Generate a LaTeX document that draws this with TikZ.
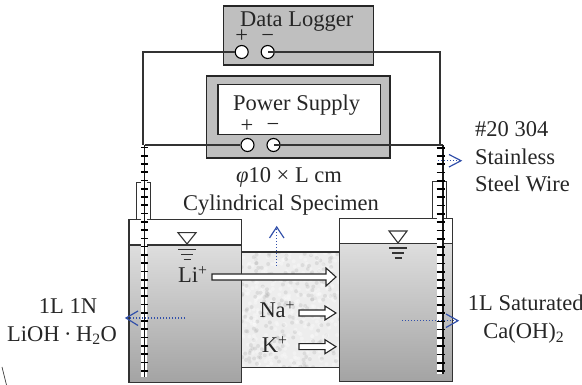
\documentclass[tikz,border=0pt]{standalone}
\usepackage{fontspec}
\setmainfont{Liberation Serif}
\definecolor{flowblue}{RGB}{50,80,170}
\begin{document}
\begin{tikzpicture}[x=1pt,y=-1pt,
  lab/.style={inner sep=0pt,font=\fontsize{22.5}{26}\selectfont,text=black!85},
  sgn/.style={inner sep=0pt,font=\fontsize{22.5}{24}\selectfont,text=black!85},
  box/.style={draw=black!85,line width=1.1pt,fill=black!25,inner sep=0pt},
  inner/.style={draw=black!85,line width=1.1pt,fill=white,inner sep=0pt},
  term/.style={circle,draw=black,line width=1.1pt,fill=white,minimum size=13pt,inner sep=0pt},
  wire/.style={draw=black!80,line width=1.1pt},
  tank/.style={draw=black!80,line width=1.2pt},
  ionarrow/.style={draw=black!85,line width=1.1pt,fill=white},
  flow/.style={draw=flowblue,line width=1.3pt,dash pattern=on 1.4pt off 1.6pt},
  chev/.style={draw=flowblue,line width=1.2pt},
  lvl/.style={draw=black!80,line width=1.1pt}]
\useasboundingbox (0,0) rectangle (582,385);
% stray mark
\draw[black!80,line width=.7pt] (2,367) -- (6.5,385);
% specimen
\fill[black!7] (241.5,252) rectangle (340,367.7);
\begin{scope}
\clip (241.5,252) rectangle (340,367.7);
\pgfmathsetseed{7}
\foreach \i in {1,...,500}{
  \pgfmathsetmacro{\px}{241.5+98.5*rnd}
  \pgfmathsetmacro{\py}{252+115.7*rnd}
  \pgfmathsetmacro{\sh}{rnd<0.6 ? 0 : 30}
  \fill[fill=black!\sh,opacity=.3] (\px,\py) circle[radius=2pt];
}
\end{scope}
\draw[tank] (241.5,252) -- (340,252) (241.5,367.7) -- (340,367.7);
% tanks
\shade[top color=black!13,bottom color=black!36] (129,245) rectangle (241.5,382.7);
\shade[top color=black!13,bottom color=black!36] (339.7,243.3) rectangle (452.3,381.7);
\draw[tank] (129,219.3) rectangle (241.5,382.7) (129,245) -- (241.5,245);
\draw[tank] (339.7,218.3) rectangle (452.3,381.7) (339.7,243.3) -- (452.3,243.3);
% sleeves
\draw[black!80,line width=.9pt] (136.7,219.3) -- (136.7,182.7) -- (150.7,182.7) -- (150.7,219.3);
\draw[black!80,line width=.9pt] (432,218.3) -- (432,181) -- (446.7,181) -- (446.7,218.3);
% instruments
\node[box,minimum width=149.3pt,minimum height=59pt] (logger) at (298.4,35.5) {};
\node[box,minimum width=183.5pt,minimum height=82pt] (supply) at (298.2,117) {};
\node[inner,minimum width=162.5pt,minimum height=50pt] (screen) at (299.2,109.5) {};
\node[term] (lp) at (241.7,52) {};
\node[term] (ln) at (267.7,52) {};
\node[term] (sp) at (247.5,145) {};
\node[term] (sn) at (273.5,145) {};
\coordinate (wl) at (143,145);
\coordinate (wr) at (440,145);
\coordinate (rl) at (144.5,145);
\coordinate (rr) at (442.7,145);
\coordinate (rlb) at (144.5,377);
\coordinate (rrb) at (442.7,374);
\draw[wire] (wl) -- (143,52) -- (lp.west);
\draw[wire] (wr) -- (440,52) -- (ln.center);
\draw[wire,line width=1.4pt] (rl) -- (sp.west);
\draw[wire,line width=1.4pt] (rr) -- (sn.center);
% threaded rods
\fill[white] (140.5,146) rectangle (146.5,377);
\fill[white] (437,146) rectangle (442.7,374);
\draw[black!90,line width=1.8pt] (rl) -- (rlb);
\draw[black!90,line width=1.8pt] (rr) -- (rrb);
\foreach \k in {0,...,27}{
  \draw[black,line width=1.7pt] (141,370.7-8.27*\k) -- (147.5,370.7-8.27*\k);
  \draw[black,line width=1.7pt] (436.5,371-8.27*\k) -- (445,371-8.27*\k);
}
% level marks
\draw[lvl] (178,232.7) -- (196,232.7) -- (187,244) -- cycle;
\draw[lvl] (178,249.3) -- (196,249.3) (181,254.3) -- (193,254.3) (183.5,259.3) -- (190.5,259.3);
\draw[lvl] (389,231) -- (407,231) -- (398,243) -- cycle;
\draw[lvl] (389,248) -- (407,248) (392,253) -- (404,253) (394.5,258) -- (401.5,258);
% ion arrows
\draw[ionarrow] (212,274) -- (326,274) -- (326,268) -- (336,277) -- (326,286) -- (326,280) -- (212,280) -- cycle;
\draw[ionarrow] (299,310) -- (325,310) -- (325,306) -- (336,313) -- (325,320) -- (325,316) -- (299,316) -- cycle;
\draw[ionarrow] (299,343.7) -- (325,343.7) -- (325,339.7) -- (336,346.7) -- (325,353.7) -- (325,349.7) -- (299,349.7) -- cycle;
% blue flow arrows
\coordinate (f1a) at (276.7,266); \coordinate (f1b) at (276.7,227);
\coordinate (f2a) at (185,318); \coordinate (f2b) at (126,318);
\coordinate (f3a) at (402,320.7); \coordinate (f3b) at (458,320.7);
\coordinate (f4a) at (438,160.7); \coordinate (f4b) at (461,160.7);
\draw[flow] (f1a) -- (f1b);
\draw[flow] (f2a) -- (f2b);
\draw[flow] (f3a) -- (f3b);
\draw[flow] (f4a) -- (f4b);
\draw[chev] (269.5,238) -- (f1b) -- (284,238);
\draw[chev] (138,311) -- (f2b) -- (138,325.5);
\draw[chev] (446,314) -- (f3b) -- (446,327.5);
\draw[chev] (449,154.5) -- (f4b) -- (449,167);
% text
\node[lab,anchor=base west] (t1) at (240,26.7) {Data Logger};
\node[sgn] (t2) at (241.7,36) {+};
\node[sgn] (t3) at (267.7,38) {−};
\node[lab,anchor=base west] (t4) at (233,111) {Power Supply};
\node[sgn] (t5) at (247,126) {+};
\node[sgn] (t6) at (273,127) {−};
\node[lab,anchor=base] (t7) at (289,183) {{\itshape φ}10 × L cm};
\node[lab,anchor=base] (t8) at (281,210.7) {Cylindrical Specimen};
\node[lab,anchor=base west] (t9) at (475,137) {\#20 304};
\node[lab,anchor=base west] (t10) at (475,165) {Stainless};
\node[lab,anchor=base west] (t11) at (475,191.7) {Steel Wire};
\node[lab,anchor=base] (t12) at (68,314) {1L 1N};
\node[lab,anchor=base] (t13) at (62,341.7) {LiOH\hspace{.2em}·\hspace{.2em}H\textsubscript{2}O};
\node[lab,anchor=base west] (t14) at (467.7,310.7) {1L Saturated};
\node[lab,anchor=base] (t15) at (523.7,339) {Ca(OH)\textsubscript{2}};
\node[lab,anchor=base west] (t16) at (178,282.7) {Li\textsuperscript{+}};
\node[lab,anchor=base west] (t17) at (259.3,318) {Na\textsuperscript{+}};
\node[lab,anchor=base west] (t18) at (261.7,352.7) {K\textsuperscript{+}};
\end{tikzpicture}
\end{document}
